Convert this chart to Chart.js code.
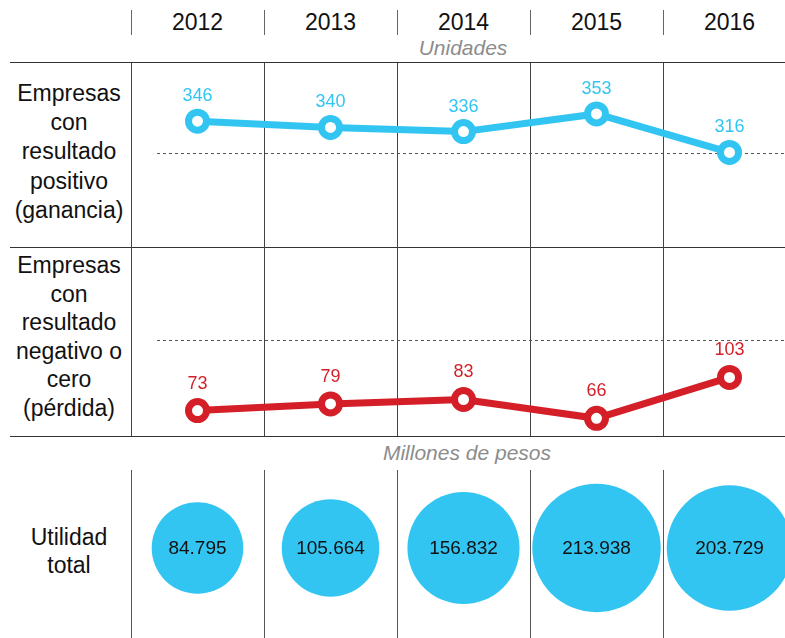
<!DOCTYPE html>
<html><head><meta charset="utf-8">
<script src="https://cdn.jsdelivr.net/npm/chart.js@4/dist/chart.umd.min.js"></script>
<style>
html,body{margin:0;padding:0;background:#fff;overflow:hidden;width:785px;height:638px;}
#wrap{position:relative;width:785px;height:638px;overflow:hidden;font-family:"Liberation Sans",Arial,Helvetica,sans-serif;color:#111;}
canvas.c{position:absolute;left:0;}
.t{position:absolute;white-space:nowrap;transform:translate(-50%,-50%);line-height:1;}
.yr{font-size:23px;color:#111;}
.unit{font-size:21px;color:#8c8c8c;font-style:italic;}
.hl{position:absolute;left:10px;width:775px;height:1px;background:#333;}
.vl{position:absolute;width:1px;background:#666;}
.row{position:absolute;left:0;width:138px;text-align:center;font-size:23px;color:#111;}
</style></head>
<body><div id="wrap">
  <div id="header"></div>
  <div class="t unit" style="left:463px;top:47px;">Unidades</div>
  <div class="hl" style="top:62px;"></div>
  <div class="hl" style="top:247px;"></div>
  <div class="hl" style="top:436px;"></div>
  <div class="row" style="top:79px;line-height:29.2px;">Empresas<br>con<br>resultado<br>positivo<br>(ganancia)</div>
  <div class="row" style="top:251px;line-height:28.6px;">Empresas<br>con<br>resultado<br>negativo o<br>cero<br>(pérdida)</div>
  <div class="t unit" style="left:467px;top:452px;">Millones de pesos</div>
  <div class="row" style="top:523px;line-height:28px;">Utilidad<br>total</div>
  <canvas class="c" id="cPos" width="800" height="185" style="top:63px;"></canvas>
  <canvas class="c" id="cNeg" width="800" height="188" style="top:248px;"></canvas>
  <canvas class="c" id="cUt" width="800" height="168" style="top:470px;"></canvas>
</div>
<script>
// ---- data ----
const years = ['2012','2013','2014','2015','2016'];
const positivos = [346, 340, 336, 353, 316];
const negativos = [73, 79, 83, 66, 103];
const utilidad = [84795, 105664, 156832, 213938, 203729]; // millones de pesos

const BLUE = '#33c5f2';
const RED = '#d41f28';
const FONT = '"Liberation Sans", Arial, Helvetica, sans-serif';

function fmt(v){ return String(v).replace(/\B(?=(\d{3})+(?!\d))/g, '.'); }
function radiusFor(v){ return 33.7 + 0.0001426 * v; }

// header: years + short separators
const COL0 = 131, COLW = 133;
const header = document.getElementById('header');
years.forEach((y, i) => {
  const d = document.createElement('div');
  d.className = 't yr';
  d.style.left = (COL0 + COLW * (i + 0.5)) + 'px';
  d.style.top = '22px';
  d.textContent = y;
  header.appendChild(d);
  const v = document.createElement('div');
  v.className = 'vl';
  v.style.left = (COL0 + COLW * i) + 'px';
  v.style.top = '10px';
  v.style.height = '25px';
  header.appendChild(v);
});

const tablePlugin = {
  id: 'tableGrid',
  beforeDatasetsDraw(chart, args, opts) {
    const { ctx, chartArea: a, scales: { x } } = chart;
    const step = x.getPixelForValue(1) - x.getPixelForValue(0);
    ctx.save();
    ctx.strokeStyle = opts.lineColor || '#444';
    ctx.lineWidth = 1;
    for (let i = 0; i < years.length; i++) {
      const px = Math.round(x.getPixelForValue(i) - step / 2) + 0.5;
      ctx.beginPath(); ctx.moveTo(px, a.top); ctx.lineTo(px, a.bottom); ctx.stroke();
    }
    if (opts.refValue != null) {
      const y = Math.round(chart.scales.y.getPixelForValue(opts.refValue)) + 0.5;
      ctx.setLineDash([3, 3]);
      ctx.strokeStyle = '#555';
      ctx.beginPath(); ctx.moveTo(a.left + 26, y); ctx.lineTo(a.right, y); ctx.stroke();
    }
    ctx.restore();
  },
  afterDatasetsDraw(chart, args, opts) {
    if (!opts.labelMode) return;
    const { ctx } = chart;
    const ds = chart.data.datasets[0];
    const meta = chart.getDatasetMeta(0);
    ctx.save();
    ctx.textAlign = 'center';
    ctx.textBaseline = 'middle';
    meta.data.forEach((p, i) => {
      const raw = ds.data[i];
      if (opts.labelMode === 'above') {
        ctx.font = '18px ' + FONT;
        ctx.fillStyle = ds.borderColor;
        ctx.fillText(String(raw), p.x, p.y - opts.labelOffset);
      } else {
        ctx.font = '19px ' + FONT;
        ctx.fillStyle = '#111';
        ctx.fillText(fmt(utilidad[i]), p.x, p.y + 1);
      }
    });
    ctx.restore();
  }
};

function lineChart(id, values, color, min, max, ref, labelOffset) {
  return new Chart(document.getElementById(id), {
    type: 'line',
    data: {
      labels: years,
      datasets: [{
        data: values,
        borderColor: color,
        borderWidth: 7,
        pointRadius: 9,
        pointHoverRadius: 9,
        pointBorderWidth: 7,
        pointBackgroundColor: '#fff',
        pointBorderColor: color,
        tension: 0,
        clip: false
      }]
    },
    options: {
      responsive: false,
      animation: false,
      events: [],
      layout: { autoPadding: false, padding: { left: 131, right: 4, top: 0, bottom: 0 } },
      plugins: {
        legend: { display: false },
        tooltip: { enabled: false },
        tableGrid: { refValue: ref, labelMode: 'above', labelOffset: labelOffset, lineColor: '#444' }
      },
      scales: {
        x: { type: 'category', offset: true, display: false },
        y: { type: 'linear', min: min, max: max, display: false }
      }
    },
    plugins: [tablePlugin]
  });
}

lineChart('cPos', positivos, BLUE, 224, 402, 315, 25);
lineChart('cNeg', negativos, RED, 50, 220, 136.5, 27);

new Chart(document.getElementById('cUt'), {
  type: 'bubble',
  data: {
    datasets: [{
      data: utilidad.map((v, i) => ({ x: i, y: 0, r: radiusFor(v) })),
      backgroundColor: BLUE,
      borderWidth: 0,
      hoverRadius: 0,
      clip: false
    }]
  },
  options: {
    responsive: false,
    animation: false,
    events: [],
    layout: { autoPadding: false, padding: { left: 131, right: 4, top: 0, bottom: 0 } },
    plugins: {
      legend: { display: false },
      tooltip: { enabled: false },
      tableGrid: { labelMode: 'inside', lineColor: '#555' }
    },
    scales: {
      x: { type: 'linear', min: -0.5, max: 4.5, display: false },
      y: { type: 'linear', min: -90, max: 78, display: false }
    }
  },
  plugins: [tablePlugin]
});
</script>
</body></html>
